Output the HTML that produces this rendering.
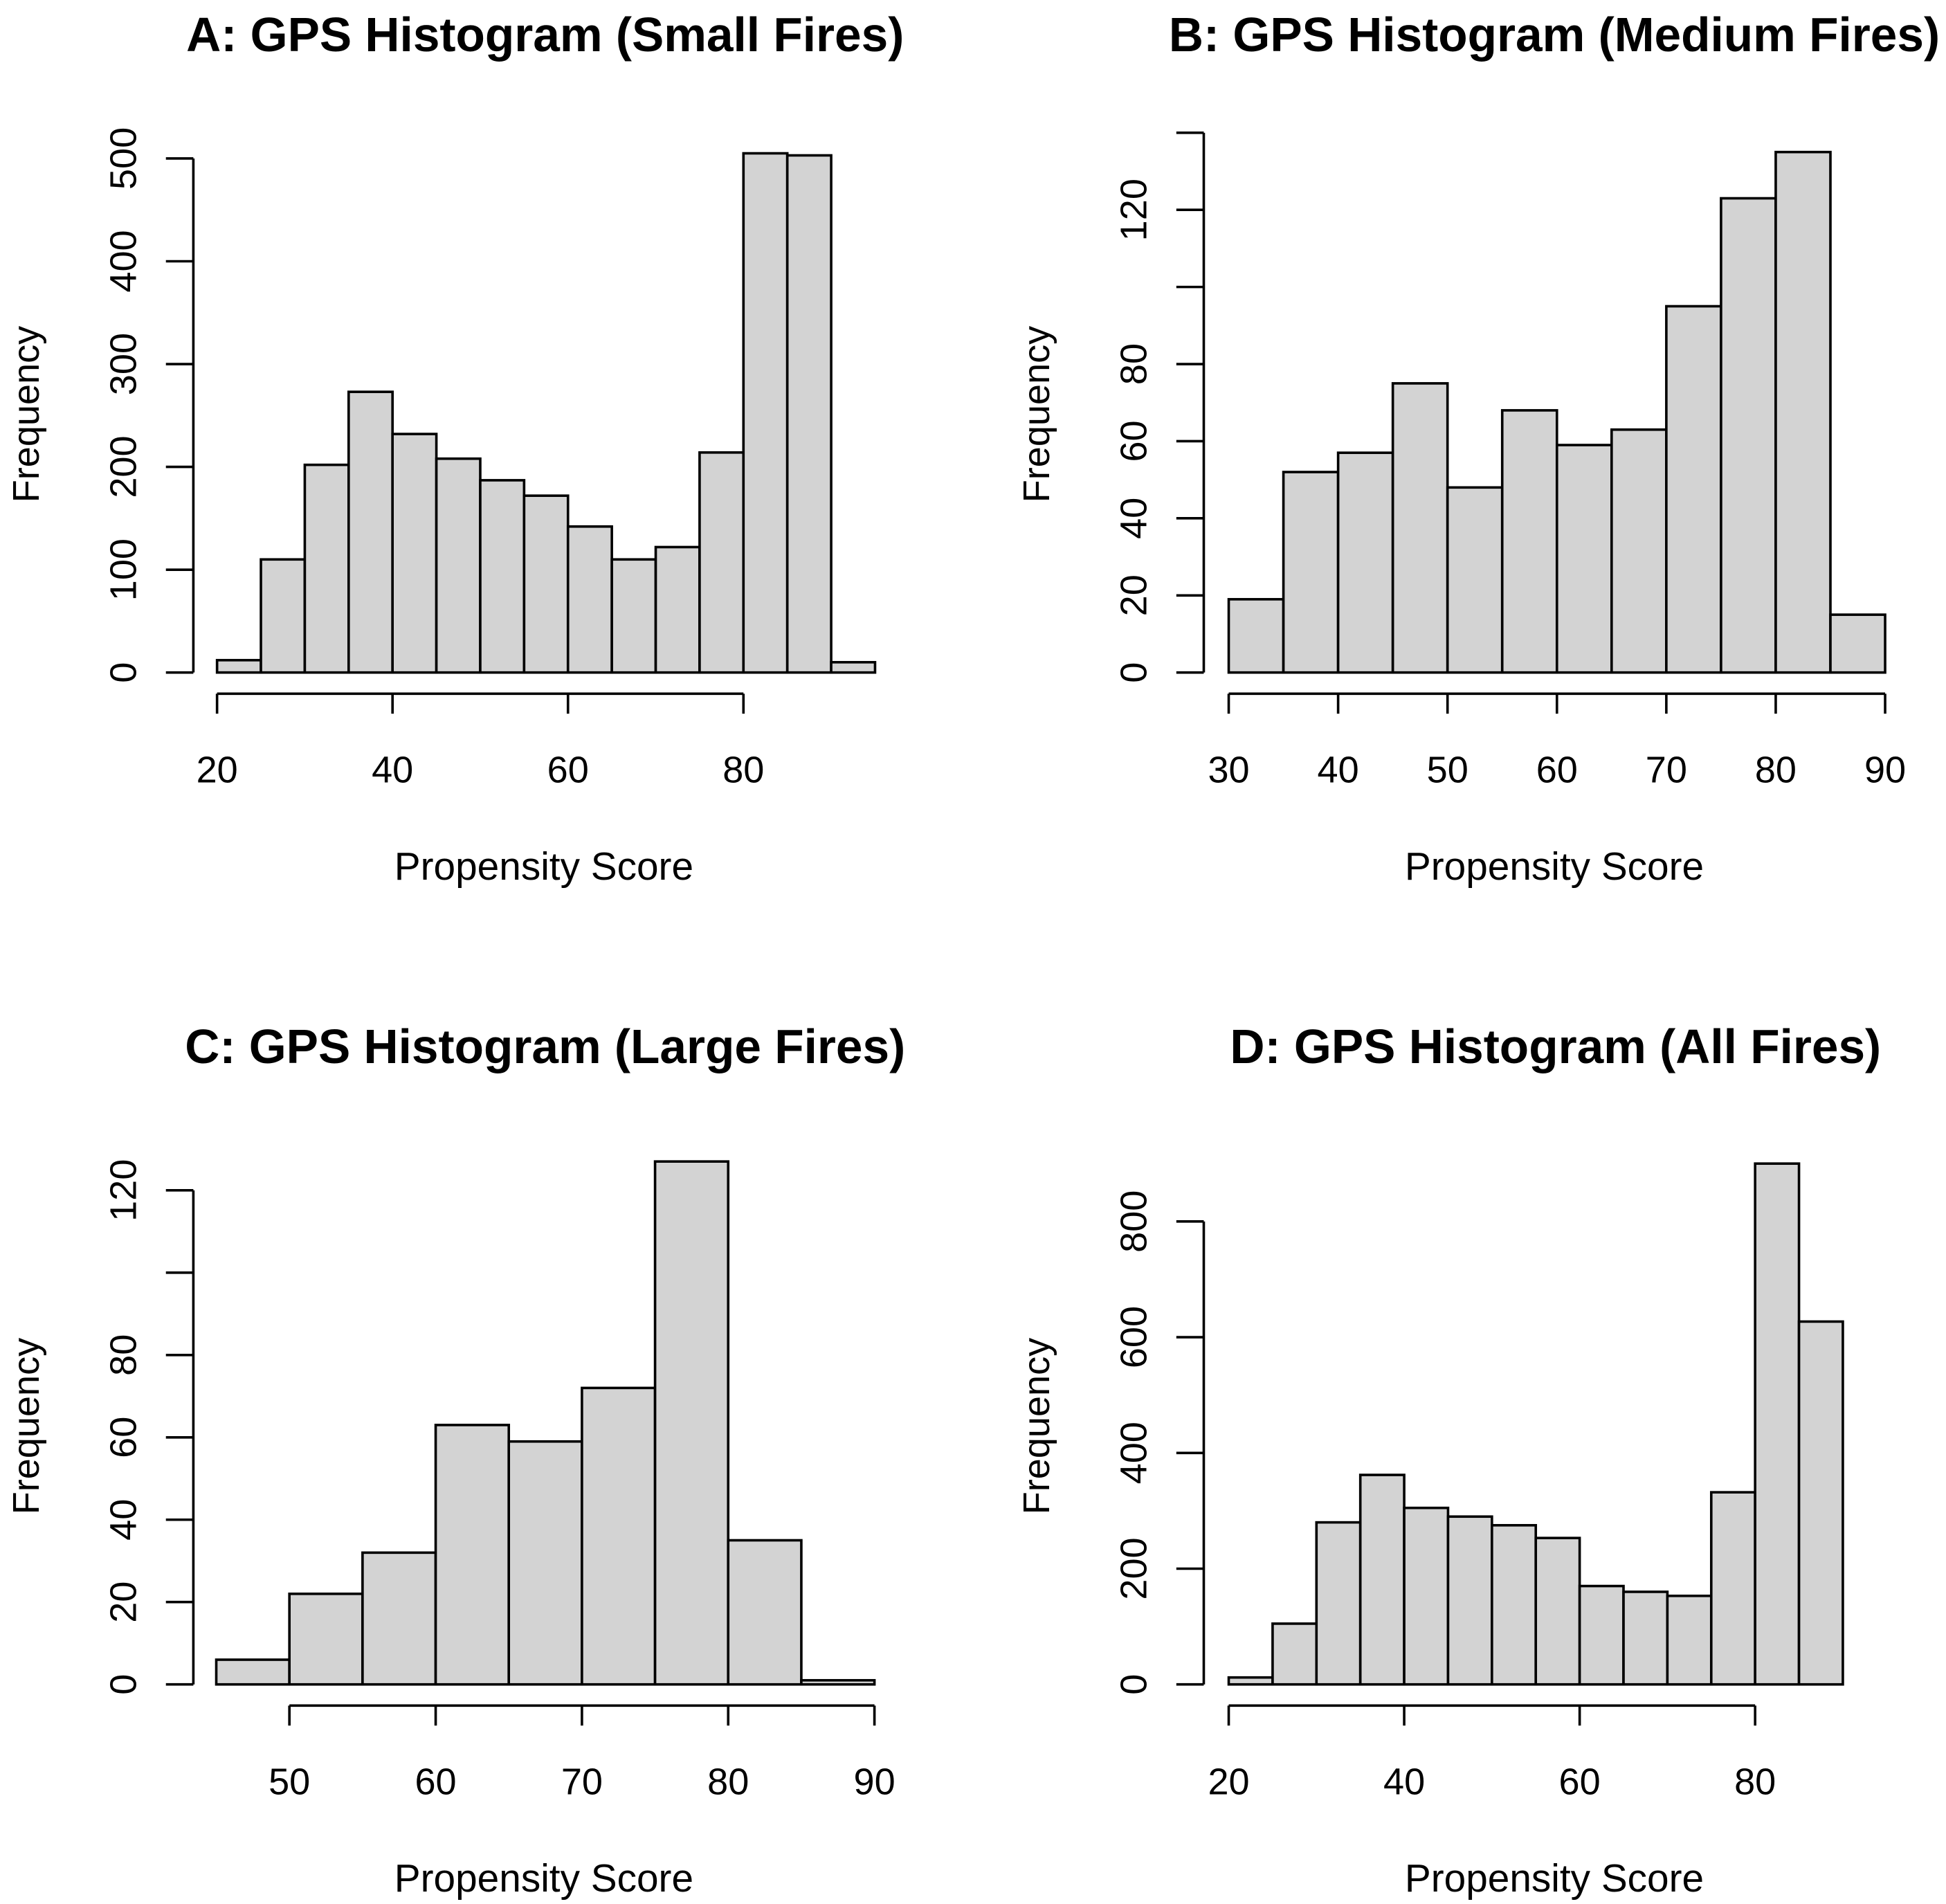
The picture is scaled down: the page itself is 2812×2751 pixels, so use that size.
<!DOCTYPE html>
<html><head><meta charset="utf-8"><style>
html,body{margin:0;padding:0;background:#fff;}
svg{display:block;}
text{font-family:"Liberation Sans",Arial,sans-serif;fill:#000;}
</style></head>
<body>
<svg id="chart" width="2812" height="2751" viewBox="0 0 1560 1526" preserveAspectRatio="none" xmlns="http://www.w3.org/2000/svg"></svg>
<script>
// Panel A data
const aBinStart = 20, aBinWidth = 5;
const aCounts = [12,110,202,273,232,208,187,172,142,110,122,214,505,503,10];
const aXTicks = [20,40,60,80];
const aYTicks = [0,100,200,300,400,500];
const aYLabels = ["0","100","200","300","400","500"];
// Panel B data
const bBinStart = 30, bBinWidth = 5;
const bCounts = [19,52,57,75,48,68,59,63,95,123,135,15];
const bXTicks = [30,40,50,60,70,80,90];
const bYTicks = [0,20,40,60,80,100,120,140];
const bYLabels = ["0","20","40","60","80","","120",""];
// Panel C data
const cBinStart = 45, cBinWidth = 5;
const cCounts = [6,22,32,63,59,72,127,35,1];
const cXTicks = [50,60,70,80,90];
const cYTicks = [0,20,40,60,80,100,120];
const cYLabels = ["0","20","40","60","80","","120"];
// Panel D data
const dBinStart = 20, dBinWidth = 5;
const dCounts = [12,105,280,362,305,290,275,253,170,160,153,332,900,627];
const dXTicks = [20,40,60,80];
const dYTicks = [0,200,400,600,800];
const dYLabels = ["0","200","400","600","800"];

const NS = "http://www.w3.org/2000/svg";
const svg = document.getElementById('chart');
function el(tag, attrs, parent){
  const e = document.createElementNS(NS, tag);
  for (const k in attrs) e.setAttribute(k, attrs[k]);
  (parent||svg).appendChild(e);
  return e;
}

function panel(cfg){
  const g = el('g', {});
  
  
  const xs = v => cfg.x0 + (v - cfg.xv0) * cfg.xk;
  const ys = v => cfg.y0 - v * cfg.yk;
  const t = el('text', {x: cfg.titleX, y: cfg.titleY, 'font-size': 38.5, 'font-weight': 'bold', 'text-anchor': 'middle'}, g);
  t.textContent = cfg.title;
  
  
  cfg.counts.forEach((c, i) => {
    const lo = cfg.binStart + i * cfg.binWidth, hi = lo + cfg.binWidth;
    const r = el('rect', {x: xs(lo), y: ys(c), width: xs(hi) - xs(lo), height: ys(0) - ys(c), fill: '#d3d3d3', stroke: '#000', 'stroke-width': 2}, g);
    
    
  });
  const xa = el('g', {}, g);
  
  
  const ax = cfg.axisY;
  el('line', {x1: xs(cfg.xTicks[0]), x2: xs(cfg.xTicks[cfg.xTicks.length-1]), y1: ax, y2: ax, stroke: '#000', 'stroke-width': 2}, xa);
  cfg.xTicks.forEach(v => {
    el('line', {x1: xs(v), x2: xs(v), y1: ax, y2: ax + 16, stroke: '#000', 'stroke-width': 2}, xa);
    const tl = el('text', {x: xs(v), y: ax + 71, 'font-size': 30, 'text-anchor': 'middle'}, xa);
    tl.textContent = v;
    
    
  });
  const xl = el('text', {x: cfg.xLabelX, y: ax + 149, 'font-size': 31.5, 'text-anchor': 'middle'}, g);
  xl.textContent = 'Propensity Score';
  
  
  const ya = el('g', {}, g);
  
  
  const yx = cfg.axisX;
  el('line', {x1: yx, x2: yx, y1: ys(cfg.yTicks[0]), y2: ys(cfg.yTicks[cfg.yTicks.length-1]), stroke: '#000', 'stroke-width': 2}, ya);
  cfg.yTicks.forEach((v, i) => {
    el('line', {x1: yx - 22, x2: yx, y1: ys(v), y2: ys(v), stroke: '#000', 'stroke-width': 2}, ya);
    if (cfg.yLabels[i]) {
      const tl = el('text', {x: 0, y: 0, 'font-size': 30, 'text-anchor': 'middle', transform: `translate(${yx - 46},${ys(v)}) rotate(-90)`}, ya);
      tl.textContent = cfg.yLabels[i];
      
      
    }
  });
  const yl = el('text', {x: 0, y: 0, 'font-size': 30, 'text-anchor': 'middle', transform: `translate(${yx - 124},${cfg.yLabelY}) rotate(-90)`}, g);
  yl.textContent = 'Frequency';
  
  
}

panel({name:'panel-a-small-fires', title:'A: GPS Histogram (Small Fires)', titleX:437, titleY:41,
  counts:aCounts, binStart:aBinStart, binWidth:aBinWidth, xTicks:aXTicks, yTicks:aYTicks, yLabels:aYLabels,
  x0:174, xv0:20, xk:7.033, y0:539, yk:0.824, axisY:556, axisX:155, xLabelX:436, yLabelY:332});
panel({name:'panel-b-medium-fires', title:'B: GPS Histogram (Medium Fires)', titleX:1246, titleY:41,
  counts:bCounts, binStart:bBinStart, binWidth:bBinWidth, xTicks:bXTicks, yTicks:bYTicks, yLabels:bYLabels,
  x0:985, xv0:30, xk:8.77, y0:539, yk:3.09, axisY:556, axisX:965, xLabelX:1246, yLabelY:332});
panel({name:'panel-c-large-fires', title:'C: GPS Histogram (Large Fires)', titleX:437, titleY:852,
  counts:cCounts, binStart:cBinStart, binWidth:cBinWidth, xTicks:cXTicks, yTicks:cYTicks, yLabels:cYLabels,
  x0:232, xv0:50, xk:11.725, y0:1350, yk:3.3, axisY:1367, axisX:155, xLabelX:436, yLabelY:1143});
panel({name:'panel-d-all-fires', title:'D: GPS Histogram (All Fires)', titleX:1247, titleY:852,
  counts:dCounts, binStart:dBinStart, binWidth:dBinWidth, xTicks:dXTicks, yTicks:dYTicks, yLabels:dYLabels,
  x0:985, xv0:20, xk:7.033, y0:1350, yk:0.4638, axisY:1367, axisX:965, xLabelX:1246, yLabelY:1143});
</script>
</body></html>
